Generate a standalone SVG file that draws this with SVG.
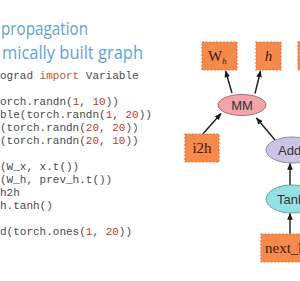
<svg xmlns="http://www.w3.org/2000/svg" width="300" height="281" viewBox="0 0 300 281">
<defs>
<style>
.title{font-family:"Open Sans","Liberation Sans",sans-serif;font-size:19px;fill:#62a2da}
.code{font-family:"Liberation Mono",monospace;font-size:11px;fill:#4a4a4a}
.num{fill:#c0392b}
.kw{fill:#c8582a}
.box{fill:#f58a4c;stroke:#e07a3a;stroke-width:1.2;stroke-dasharray:2 1.5}
.btxt{font-family:"Liberation Serif","DejaVu Serif",serif;font-size:15px;fill:#3a1a0a}
.etxt{font-family:"Liberation Sans",Arial,sans-serif;font-size:13px;fill:#333}
.edge{stroke:#1a1a1a;stroke-width:1.4;fill:none;marker-end:url(#ah)}
</style>
<marker id="ah" viewBox="0 0 10 10" refX="9" refY="5" markerWidth="5" markerHeight="5" orient="auto">
<path d="M0,1 L10,5 L0,9 z" fill="#1a1a1a"/>
</marker>
</defs>
<rect width="300" height="281" fill="#ffffff"/>
<g id="title">
<text class="title" x="1" y="35" textLength="87" lengthAdjust="spacingAndGlyphs">propagation</text>
<text class="title" x="2" y="59" textLength="141" lengthAdjust="spacingAndGlyphs">mically built graph</text>
</g>
<g id="code">
<text class="code" x="0" y="79">ograd <tspan class="kw">import</tspan> Variable</text>
<text class="code" x="0" y="105">orch.randn(<tspan class="num">1</tspan>, <tspan class="num">10</tspan>))</text>
<text class="code" x="0" y="118">ble(torch.randn(<tspan class="num">1</tspan>, <tspan class="num">20</tspan>))</text>
<text class="code" x="0" y="131">(torch.randn(<tspan class="num">20</tspan>, <tspan class="num">20</tspan>))</text>
<text class="code" x="0" y="144">(torch.randn(<tspan class="num">20</tspan>, <tspan class="num">10</tspan>))</text>
<text class="code" x="0" y="170">(W_x, x.t())</text>
<text class="code" x="0" y="183">(W_h, prev_h.t())</text>
<text class="code" x="0" y="196"> h2h</text>
<text class="code" x="0" y="209">h.tanh()</text>
<text class="code" x="0" y="235">d(torch.ones(<tspan class="num">1</tspan>, <tspan class="num">20</tspan>))</text>
</g>
<g id="connectors">
<line class="edge" x1="232" y1="93" x2="225.5" y2="71"/>
<line class="edge" x1="255" y1="93.5" x2="260.5" y2="71"/>
<line class="edge" x1="202" y1="135" x2="221" y2="113.5"/>
<line class="edge" x1="275" y1="140" x2="256.5" y2="118"/>
<line class="edge" x1="290" y1="185" x2="290" y2="163.5"/>
<line class="edge" x1="290" y1="234" x2="290" y2="213.5"/>
</g>
<g id="node-Wh">
<rect class="box" x="202" y="42" width="35" height="28"/>
<text class="btxt" x="208" y="61">W<tspan font-size="9" font-style="italic" dy="3">h</tspan></text>
</g>
<g id="node-h">
<rect class="box" x="256" y="42" width="25" height="28"/>
<text class="btxt" x="268.5" y="61" text-anchor="middle" font-style="italic">h</text>
</g>
<g id="node-right">
<rect class="box" x="298" y="42" width="20" height="28"/>
</g>
<g id="node-MM">
<ellipse cx="242" cy="105" rx="24" ry="10.5" fill="#f4a3a8" stroke="#8a5a5e" stroke-width="0.8"/>
<text class="etxt" x="242" y="109.5" text-anchor="middle">MM</text>
</g>
<g id="node-i2h">
<rect class="box" x="185" y="134" width="34" height="28"/>
<text class="btxt" x="202" y="153" text-anchor="middle">i2h</text>
</g>
<g id="node-Add">
<ellipse cx="292" cy="150" rx="26" ry="13" fill="#cbc4e6" stroke="#7a7590" stroke-width="0.8"/>
<text class="etxt" x="278" y="155">Add</text>
</g>
<g id="node-Tanh">
<ellipse cx="292" cy="199" rx="26" ry="14" fill="#93e2e2" stroke="#5a8a8a" stroke-width="0.8"/>
<text class="etxt" x="277" y="204">Tanh</text>
</g>
<g id="node-next_h">
<rect class="box" x="261" y="234" width="60" height="28"/>
<text class="btxt" x="265" y="253">next_h</text>
</g>
</svg>
